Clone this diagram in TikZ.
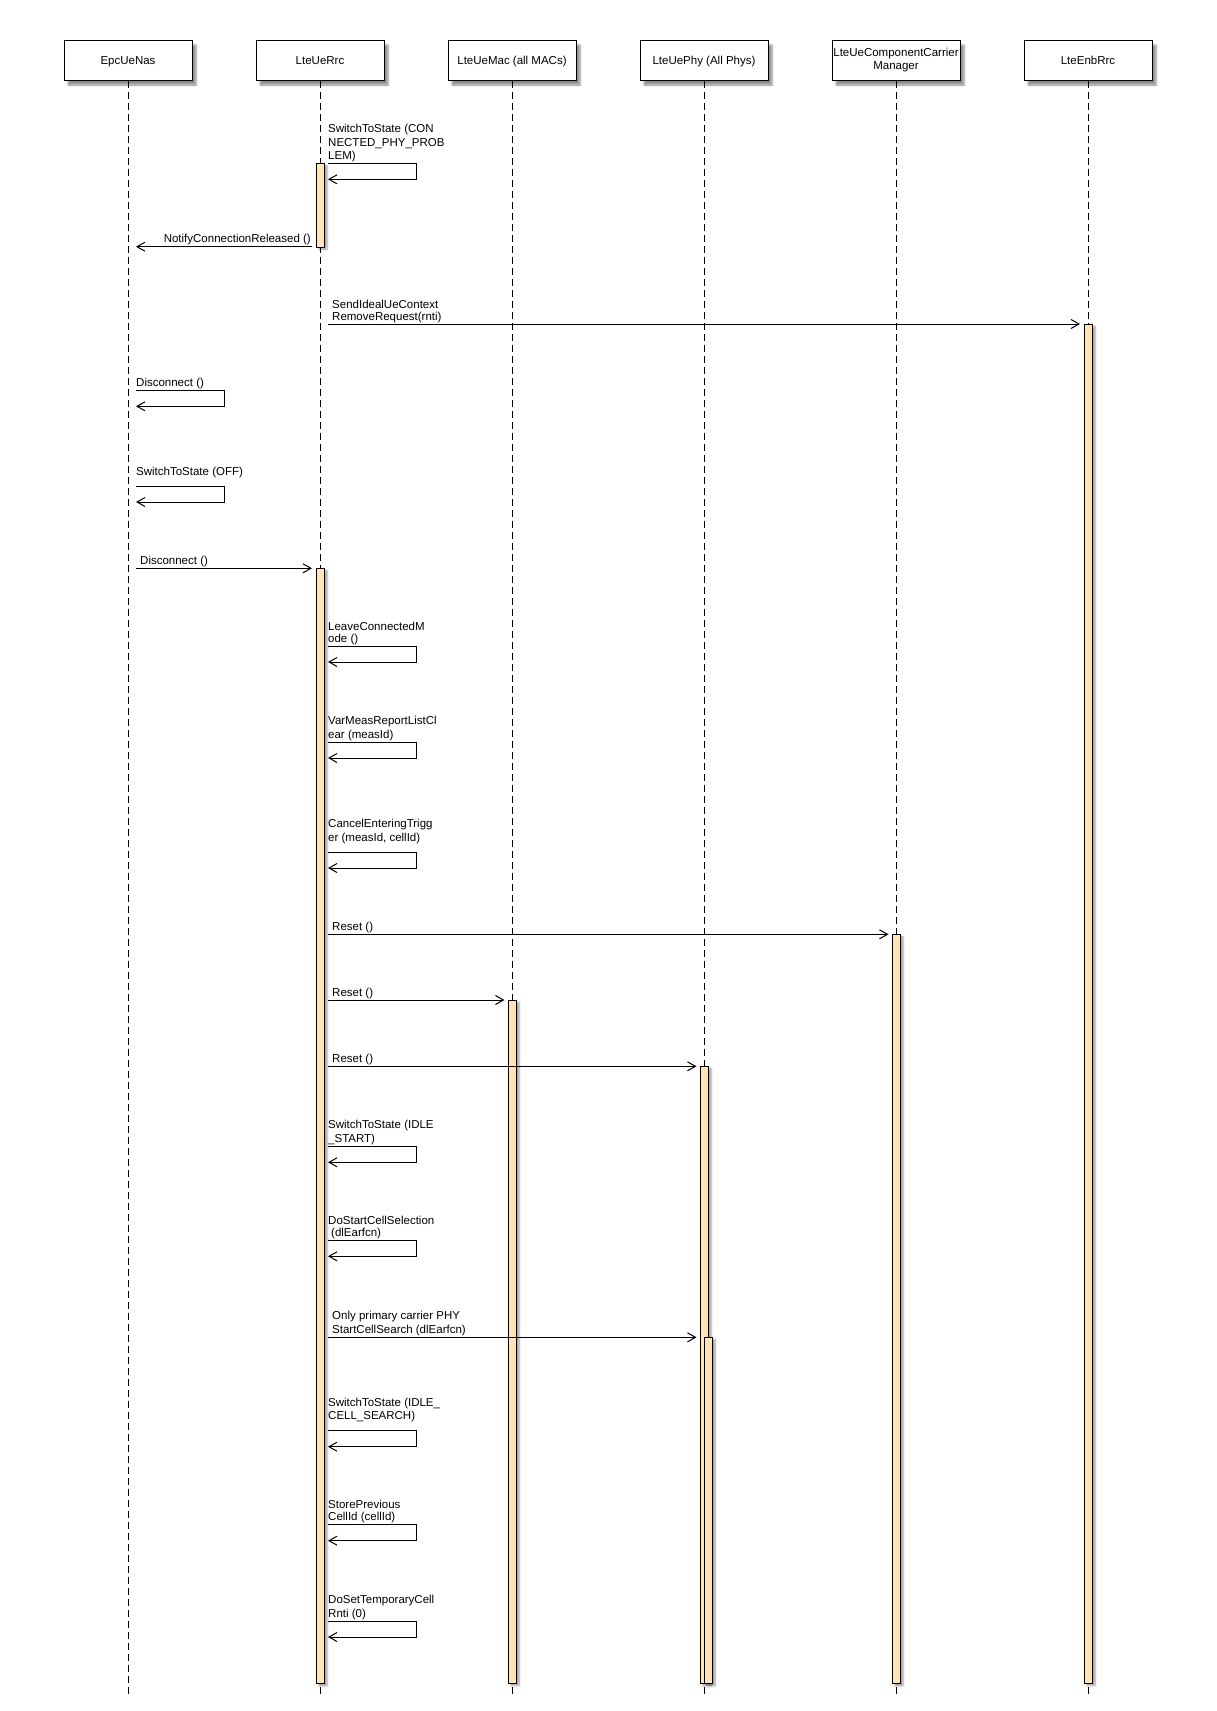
\documentclass[tikz,border=0pt]{standalone}
\usepackage{fontspec}
\setmainfont{Liberation Sans}
\usetikzlibrary{arrows.meta,shadows.blur}
\definecolor{actfill}{RGB}{255,228,181}
\begin{document}
\begin{tikzpicture}[x=1pt,y=-1pt,
  font=\fontsize{11.5}{13.5}\selectfont,
  headbox/.style={draw, fill=white, line width=1pt, minimum width=128pt, minimum height=40pt, inner sep=0pt, align=center,
    blur shadow={shadow xshift=4pt, shadow yshift=-5pt, shadow blur steps=6, shadow opacity=45}},
  head/.style={headbox, text height=9pt, text depth=0pt},
  life/.style={line width=1pt, dash pattern=on 7pt off 4pt},
  act/.style={draw, fill=actfill, line width=1pt, minimum width=8pt, inner sep=0pt, anchor=north,
    blur shadow={shadow xshift=3pt, shadow yshift=-2pt, shadow blur steps=4, shadow opacity=40}},
  msg/.style={line width=1pt, -{Straight Barb[length=8pt,width=9pt]}},
  lbl/.style={anchor=base west, inner sep=0pt},
  lblr/.style={anchor=base east, inner sep=0pt}]
\useasboundingbox (0,0) rectangle (1216,1711);

% heads
\node[head] (nas) at (128,60) {EpcUeNas};
\node[head] (rrc) at (320,60) {LteUeRrc};
\node[head] (mac) at (512,60) {LteUeMac (all MACs)};
\node[head] (phy) at (704,60) {LteUePhy (All Phys)};
\node[headbox] (ccm) at (896,60) {LteUeComponentCarrier\\[-1pt]Manager};
\node[head] (enb) at (1088,60) {LteEnbRrc};

% lifelines
\coordinate (bot) at (0,1696);
\foreach \n in {nas,rrc,mac,phy,ccm,enb}{
  \draw[life] (\n.south) -- (\n.south |- bot);
}

% activations
\node[act, minimum height=83.4pt] (rrcA) at (320,163.3) {};
\node[act, minimum height=1359pt] (enbA) at (1088,324) {};
\node[act, minimum height=1115pt] (rrcB) at (320,568.3) {};
\node[act, minimum height=749pt] (ccmA) at (896,934.3) {};
\node[act, minimum height=683pt] (macA) at (512,1000) {};
\node[act, minimum height=617pt] (phyA) at (704,1066.3) {};
\node[act, minimum height=346pt] (phyB) at (708,1337.3) {};

% 1 SwitchToState (CONNECTED_PHY_PROBLEM)
\node[lbl] (l1a) at (328,132) {SwitchToState (CON};
\node[lbl] (l1b) at (328,146) {NECTED\_PHY\_PROB};
\node[lbl] (l1c) at (328,159.3) {LEM)};
\coordinate (s1) at (328,163.3);
\draw[msg] (s1) -- ++(88,0) -- ++(0,16) -- ++(-88,0);

% 2 NotifyConnectionReleased
\node[lblr] (l2) at (311,242) {NotifyConnectionReleased ()};
\coordinate (f2) at (312,246.7);
\coordinate (t2) at (136,246.7);
\draw[msg] (f2) -- (t2);

% 3 SendIdealUeContextRemoveRequest
\node[lbl] (l3a) at (332,308) {SendIdealUeContext};
\node[lbl] (l3b) at (332,320.5) {RemoveRequest(rnti)};
\coordinate (f3) at (328,324);
\coordinate (t3) at (1080,324);
\draw[msg] (f3) -- (t3);

% 4 Disconnect (self, Nas)
\node[lbl] (l4) at (136,386) {Disconnect ()};
\coordinate (s4) at (136,390.3);
\draw[msg] (s4) -- ++(88,0) -- ++(0,16) -- ++(-88,0);

% 5 SwitchToState (OFF)
\node[lbl] (l5) at (136,475) {SwitchToState (OFF)};
\coordinate (s5) at (136,486);
\draw[msg] (s5) -- ++(88,0) -- ++(0,16) -- ++(-88,0);

% 6 Disconnect -> Rrc
\node[lbl] (l6) at (140,564) {Disconnect ()};
\coordinate (f6) at (136,568.3);
\coordinate (t6) at (312,568.3);
\draw[msg] (f6) -- (t6);

% 7 LeaveConnectedMode
\node[lbl] (l7a) at (328,630) {LeaveConnectedM};
\node[lbl] (l7b) at (328,642) {ode ()};
\coordinate (s7) at (328,646);
\draw[msg] (s7) -- ++(88,0) -- ++(0,16) -- ++(-88,0);

% 8 VarMeasReportListClear
\node[lbl] (l8a) at (328,724.7) {VarMeasReportListCl};
\node[lbl] (l8b) at (328,738) {ear (measId)};
\coordinate (s8) at (328,742);
\draw[msg] (s8) -- ++(88,0) -- ++(0,16) -- ++(-88,0);

% 9 CancelEnteringTrigger
\node[lbl] (l9a) at (328,827) {CancelEnteringTrigg};
\node[lbl] (l9b) at (328,841) {er (measId, cellId)};
\coordinate (s9) at (328,852);
\draw[msg] (s9) -- ++(88,0) -- ++(0,16) -- ++(-88,0);

% 10 Reset -> CCM
\node[lbl] (l10) at (332,930) {Reset ()};
\coordinate (f10) at (328,934.3);
\coordinate (t10) at (888.5,934.3);
\draw[msg] (f10) -- (t10);

% 11 Reset -> Mac
\node[lbl] (l11) at (332,996) {Reset ()};
\coordinate (f11) at (328,1000);
\coordinate (t11) at (504.5,1000);
\draw[msg] (f11) -- (t11);

% 12 Reset -> Phy
\node[lbl] (l12) at (332,1062) {Reset ()};
\coordinate (f12) at (328,1066.3);
\coordinate (t12) at (696.5,1066.3);
\draw[msg] (f12) -- (t12);

% 13 SwitchToState (IDLE_START)
\node[lbl] (l13a) at (328,1128) {SwitchToState (IDLE};
\node[lbl] (l13b) at (328,1142) {\_START)};
\coordinate (s13) at (328,1146.3);
\draw[msg] (s13) -- ++(88,0) -- ++(0,16) -- ++(-88,0);

% 14 DoStartCellSelection
\node[lbl] (l14a) at (328,1224) {DoStartCellSelection};
\node[lbl] (l14b) at (331,1236) {(dlEarfcn)};
\coordinate (s14) at (328,1240.3);
\draw[msg] (s14) -- ++(88,0) -- ++(0,16) -- ++(-88,0);

% 15 StartCellSearch -> Phy
\node[lbl] (l15a) at (332,1319) {Only primary carrier PHY};
\node[lbl] (l15b) at (332,1333) {StartCellSearch (dlEarfcn)};
\coordinate (f15) at (328,1337.3);
\coordinate (t15) at (696.5,1337.3);
\draw[msg] (f15) -- (t15);

% 16 SwitchToState (IDLE_CELL_SEARCH)
\node[lbl] (l16a) at (328,1406.7) {SwitchToState (IDLE\_};
\node[lbl] (l16b) at (328,1419.7) {CELL\_SEARCH)};
\coordinate (s16) at (328,1430.7);
\draw[msg] (s16) -- ++(88,0) -- ++(0,16) -- ++(-88,0);

% 17 StorePreviousCellId
\node[lbl] (l17a) at (328,1508) {StorePrevious};
\node[lbl] (l17b) at (328,1520.7) {CellId (cellId)};
\coordinate (s17) at (328,1524.7);
\draw[msg] (s17) -- ++(88,0) -- ++(0,16) -- ++(-88,0);

% 18 DoSetTemporaryCellRnti
\node[lbl] (l18a) at (328,1603) {DoSetTemporaryCell};
\node[lbl] (l18b) at (328,1617) {Rnti (0)};
\coordinate (s18) at (328,1621);
\draw[msg] (s18) -- ++(88,0) -- ++(0,16) -- ++(-88,0);
\end{tikzpicture}
\end{document}
